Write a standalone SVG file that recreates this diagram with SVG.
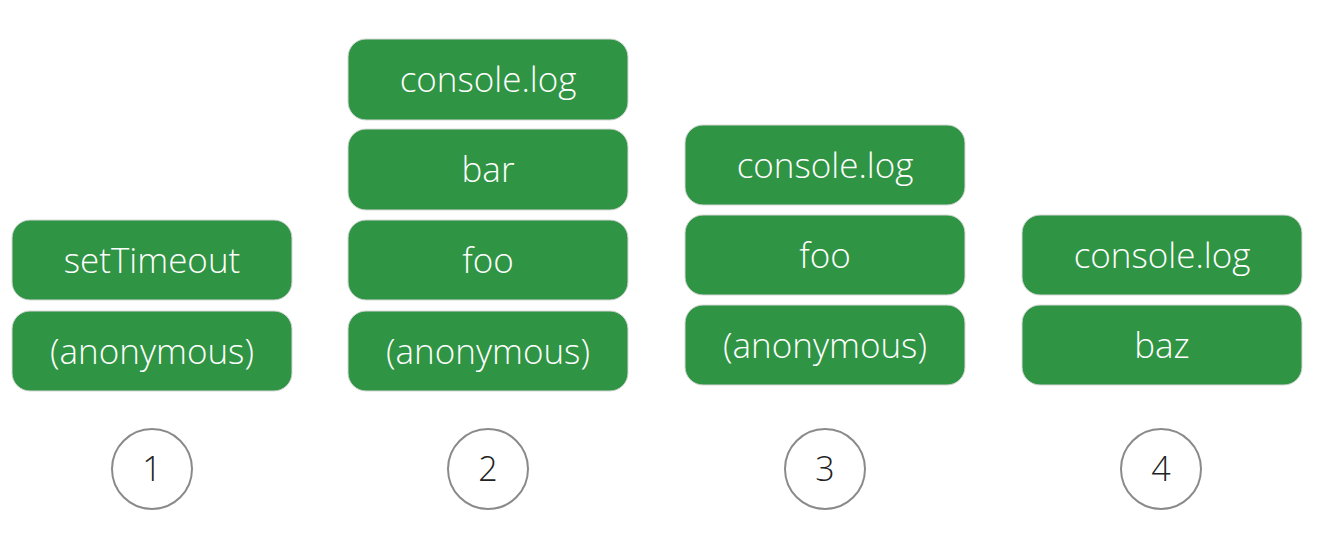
<svg xmlns="http://www.w3.org/2000/svg" width="1318" height="534" viewBox="0 0 1318 534">
<style>
.b{fill:#2f9443;stroke:#d8d8d8;stroke-width:1}
.t{font-family:"Open Sans","Liberation Sans",sans-serif;font-weight:300;font-size:35px;fill:#fff;text-anchor:middle}
.c{fill:#fff;stroke:#8a8a8a;stroke-width:2}
.n{font-family:"Open Sans","Liberation Sans",sans-serif;font-weight:300;font-size:34px;fill:#222;text-anchor:middle}
</style>
<rect width="1318" height="534" fill="#fff"/>
<g id="s1-setTimeout"><rect class="b" x="12" y="220" width="280" height="80" rx="18"/><text class="t" x="152" y="273">setTimeout</text></g>
<g id="s1-anon"><rect class="b" x="12" y="311" width="280" height="80" rx="18"/><text class="t" x="152" y="364">(anonymous)</text></g>
<g id="s2-log"><rect class="b" x="348" y="39" width="280" height="81" rx="18"/><text class="t" x="488" y="92">console.log</text></g>
<g id="s2-bar"><rect class="b" x="348" y="129" width="280" height="81" rx="18"/><text class="t" x="488" y="182">bar</text></g>
<g id="s2-foo"><rect class="b" x="348" y="220" width="280" height="80" rx="18"/><text class="t" x="488" y="273">foo</text></g>
<g id="s2-anon"><rect class="b" x="348" y="311" width="280" height="80" rx="18"/><text class="t" x="488" y="364">(anonymous)</text></g>
<g id="s3-log"><rect class="b" x="685" y="125" width="280" height="80" rx="18"/><text class="t" x="825" y="178">console.log</text></g>
<g id="s3-foo"><rect class="b" x="685" y="215" width="280" height="80" rx="18"/><text class="t" x="825" y="268">foo</text></g>
<g id="s3-anon"><rect class="b" x="685" y="305" width="280" height="80" rx="18"/><text class="t" x="825" y="358">(anonymous)</text></g>
<g id="s4-log"><rect class="b" x="1022" y="215" width="280" height="80" rx="18"/><text class="t" x="1162" y="268">console.log</text></g>
<g id="s4-baz"><rect class="b" x="1022" y="305" width="280" height="80" rx="18"/><text class="t" x="1162" y="358">baz</text></g>
<g id="n1"><circle class="c" cx="152" cy="469" r="40"/><text class="n" x="152" y="481">1</text></g>
<g id="n2"><circle class="c" cx="488" cy="469" r="40"/><text class="n" x="488" y="481">2</text></g>
<g id="n3"><circle class="c" cx="825" cy="469" r="40"/><text class="n" x="825" y="481">3</text></g>
<g id="n4"><circle class="c" cx="1161" cy="469" r="40"/><text class="n" x="1161" y="481">4</text></g>
<g id="connectors"/>
</svg>
